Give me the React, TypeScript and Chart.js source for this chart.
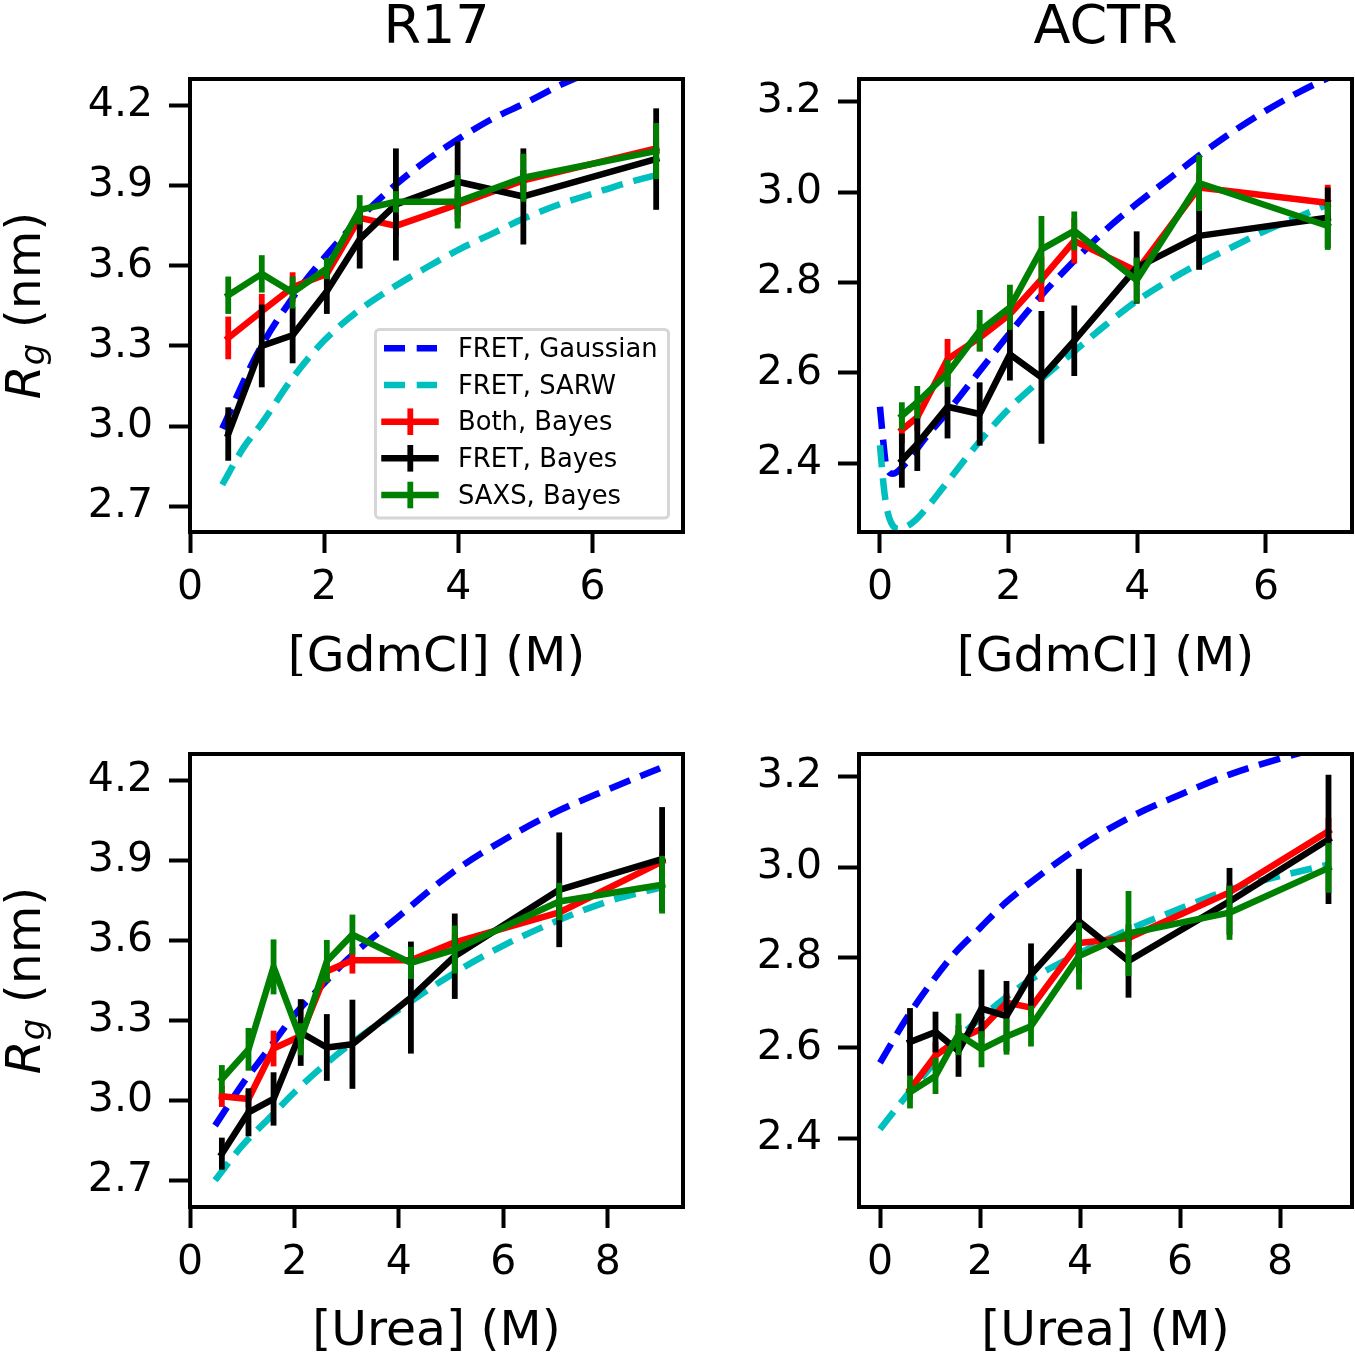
import { useEffect, useRef } from "react";
import { Chart, registerables } from "chart.js";

Chart.register(...registerables);

const FONT = "'DejaVu Sans', 'Liberation Sans', sans-serif";
Chart.defaults.font.family = FONT;

// ---------- Data: R17, GdmCl ----------
const r17GdmConc = [0.57, 1.07, 1.53, 2.04, 2.53, 3.07, 3.99, 4.97, 6.95];
const r17GdmBoth = [3.33, 3.43, 3.52, 3.57, 3.78, 3.75, 3.83, 3.92, 4.04];
const r17GdmBothErr = [0.08, 0.065, 0.056, 0.04, 0.04, 0.04, 0.04, 0.04, 0.04];
const r17GdmFret = [2.97, 3.3, 3.34, 3.505, 3.7, 3.83, 3.915, 3.86, 4.0];
const r17GdmFretErr = [0.1, 0.155, 0.105, 0.085, 0.11, 0.21, 0.15, 0.18, 0.19];
const r17GdmSaxs = [3.49, 3.57, 3.5, 3.59, 3.81, 3.84, 3.84, 3.93, 4.03];
const r17GdmSaxsErr = [0.07, 0.07, 0.06, 0.04, 0.055, 0.04, 0.1, 0.09, 0.105];
const r17GdmGaussX = [0.48, 1.0, 1.5, 2.0, 2.5, 3.0, 3.5, 4.0, 4.5, 5.0, 5.5, 6.0, 7.0];
const r17GdmGaussY = [2.99, 3.27, 3.47, 3.63, 3.77, 3.89, 3.99, 4.075, 4.15, 4.21, 4.275, 4.33, 4.43];
const r17GdmSarwX = [0.48, 0.8, 1.07, 1.5, 2.0, 2.5, 3.0, 3.5, 4.0, 4.5, 5.0, 5.5, 6.0, 6.5, 6.96];
const r17GdmSarwY = [2.78, 2.92, 3.01, 3.17, 3.32, 3.43, 3.515, 3.59, 3.66, 3.72, 3.78, 3.83, 3.87, 3.91, 3.94];

// ---------- Data: ACTR, GdmCl ----------
const actrGdmConc = [0.34, 0.58, 1.05, 1.55, 2.02, 2.51, 3.02, 3.99, 4.96, 6.96];
const actrGdmBoth = [2.474, 2.502, 2.63, 2.678, 2.73, 2.807, 2.892, 2.825, 3.01, 2.976];
const actrGdmBothErr = [0.03, 0.03, 0.045, 0.03, 0.03, 0.05, 0.05, 0.03, 0.03, 0.04];
const actrGdmFret = [2.406, 2.443, 2.525, 2.509, 2.641, 2.59, 2.671, 2.833, 2.903, 2.943];
const actrGdmFretErr = [0.06, 0.06, 0.07, 0.07, 0.058, 0.147, 0.078, 0.08, 0.075, 0.067];
const actrGdmSaxs = [2.505, 2.535, 2.599, 2.693, 2.745, 2.873, 2.914, 2.805, 3.02, 2.925];
const actrGdmSaxsErr = [0.03, 0.036, 0.03, 0.046, 0.05, 0.074, 0.043, 0.05, 0.062, 0.053];
const actrGdmGaussX = [0.0, 0.05, 0.1, 0.2, 0.4, 0.7, 1.0, 1.5, 2.0, 2.5, 3.0, 3.5, 4.0, 4.5, 5.0, 5.5, 6.0, 6.5, 7.0];
const actrGdmGaussY = [2.525, 2.45, 2.392, 2.377, 2.4, 2.455, 2.505, 2.595, 2.685, 2.77, 2.845, 2.915, 2.975, 3.03, 3.085, 3.135, 3.18, 3.22, 3.255];
const actrGdmSarwX = [0.0, 0.05, 0.1, 0.2, 0.3, 0.5, 0.75, 1.0, 1.5, 2.0, 2.5, 3.0, 3.5, 4.0, 4.5, 5.0, 5.5, 6.0, 6.5, 7.0];
const actrGdmSarwY = [2.44, 2.36, 2.305, 2.262, 2.255, 2.268, 2.305, 2.35, 2.44, 2.52, 2.585, 2.645, 2.705, 2.76, 2.805, 2.845, 2.88, 2.915, 2.945, 2.975];

// ---------- Data: R17, Urea ----------
const r17UreaConc = [0.61, 1.12, 1.6, 2.12, 2.62, 3.11, 4.23, 5.07, 7.07, 9.04];
const r17UreaBoth = [3.015, 3.005, 3.194, 3.241, 3.484, 3.525, 3.525, 3.592, 3.704, 3.895];
const r17UreaBothErr = [0.04, 0.03, 0.067, 0.03, 0.04, 0.05, 0.03, 0.03, 0.03, 0.03];
const r17UreaFret = [2.8, 2.955, 3.005, 3.254, 3.198, 3.21, 3.385, 3.54, 3.789, 3.904];
const r17UreaFretErr = [0.06, 0.09, 0.1, 0.125, 0.125, 0.167, 0.21, 0.16, 0.215, 0.195];
const r17UreaSaxs = [3.079, 3.191, 3.5, 3.229, 3.521, 3.621, 3.515, 3.565, 3.745, 3.808];
const r17UreaSaxsErr = [0.053, 0.08, 0.103, 0.06, 0.08, 0.075, 0.06, 0.09, 0.07, 0.108];
const r17UreaGaussX = [0.48, 1.0, 1.5, 2.0, 2.5, 3.0, 4.0, 5.0, 6.0, 7.0, 8.0, 9.0];
const r17UreaGaussY = [2.905, 3.06, 3.19, 3.32, 3.425, 3.525, 3.69, 3.85, 3.975, 4.08, 4.165, 4.245];
const r17UreaSarwX = [0.48, 1.0, 1.5, 2.0, 2.5, 3.0, 4.0, 5.0, 6.0, 7.0, 8.0, 9.06];
const r17UreaSarwY = [2.7, 2.83, 2.93, 3.03, 3.12, 3.2, 3.34, 3.47, 3.58, 3.67, 3.745, 3.8];

// ---------- Data: ACTR, Urea ----------
const actrUreaConc = [0.6, 1.11, 1.57, 2.03, 2.53, 3.02, 3.98, 4.97, 6.99, 8.97];
const actrUreaBoth = [2.508, 2.583, 2.619, 2.642, 2.7, 2.689, 2.832, 2.843, 2.944, 3.079];
const actrUreaBothErr = [0.02, 0.03, 0.02, 0.02, 0.02, 0.02, 0.02, 0.02, 0.02, 0.03];
const actrUreaFret = [2.613, 2.635, 2.593, 2.687, 2.67, 2.762, 2.88, 2.792, 2.924, 3.061];
const actrUreaFretErr = [0.075, 0.045, 0.057, 0.086, 0.078, 0.069, 0.116, 0.081, 0.074, 0.143];
const actrUreaSaxs = [2.502, 2.538, 2.63, 2.597, 2.625, 2.648, 2.803, 2.853, 2.899, 2.998];
const actrUreaSaxsErr = [0.036, 0.04, 0.046, 0.04, 0.04, 0.045, 0.074, 0.094, 0.06, 0.055];
const actrUreaGaussX = [0.0, 0.5, 1.0, 1.5, 2.0, 2.5, 3.0, 4.0, 5.0, 6.0, 7.0, 8.0, 9.0];
const actrUreaGaussY = [2.567, 2.66, 2.74, 2.81, 2.865, 2.92, 2.965, 3.045, 3.11, 3.16, 3.205, 3.24, 3.27];
const actrUreaSarwX = [0.0, 0.5, 1.0, 1.5, 2.0, 2.5, 3.0, 4.0, 5.0, 6.0, 7.0, 8.0, 9.0];
const actrUreaSarwY = [2.42, 2.49, 2.555, 2.615, 2.665, 2.71, 2.75, 2.81, 2.863, 2.908, 2.95, 2.98, 3.006];

// ---------- Ticks / labels ----------
const r17YTicks = [2.7, 3.0, 3.3, 3.6, 3.9, 4.2];
const actrYTicks = [2.4, 2.6, 2.8, 3.0, 3.2];
const gdmXTicks = [0, 2, 4, 6];
const ureaXTicks = [0, 2, 4, 6, 8];
const seriesLabels = ["FRET, Gaussian", "FRET, SARW", "Both, Bayes", "FRET, Bayes", "SAXS, Bayes"];
const panelTitles = ["R17", "ACTR"];
const xTitles = ["[GdmCl] (M)", "[Urea] (M)"];

const COLORS = ["#0000ff", "#00bfbf", "#ff0000", "#000000", "#008000"];
const LW = 6.5;

type PanelDef = {
  left: number; top: number; w: number; h: number;
  padT: number; padR: number; yW: number; xH: number;
  xMin: number; xMax: number; yMin: number; yMax: number;
  xTicks: number[]; yTicks: number[];
  title: string; xTitle: string; yTitle: boolean; legend: boolean;
  xTitleOff: number;
  conc: number[];
  both: number[]; bothErr: number[];
  fret: number[]; fretErr: number[];
  saxs: number[]; saxsErr: number[];
  gx: number[]; gy: number[]; sx: number[]; sy: number[];
};

const panels: PanelDef[] = [
  {
    left: 0, top: 0, w: 700, h: 676, padT: 79, padR: 17, yW: 190, xH: 144,
    xMin: 0, xMax: 7.35, yMin: 2.603, yMax: 4.3, xTicks: gdmXTicks, yTicks: r17YTicks,
    title: panelTitles[0], xTitle: xTitles[0], yTitle: true, legend: true, xTitleOff: 139,
    conc: r17GdmConc, both: r17GdmBoth, bothErr: r17GdmBothErr, fret: r17GdmFret, fretErr: r17GdmFretErr,
    saxs: r17GdmSaxs, saxsErr: r17GdmSaxsErr, gx: r17GdmGaussX, gy: r17GdmGaussY, sx: r17GdmSarwX, sy: r17GdmSarwY,
  },
  {
    left: 700, top: 0, w: 655, h: 676, padT: 79, padR: 3, yW: 159, xH: 144,
    xMin: -0.326, xMax: 7.337, yMin: 2.248, yMax: 3.25, xTicks: gdmXTicks, yTicks: actrYTicks,
    title: panelTitles[1], xTitle: xTitles[0], yTitle: false, legend: false, xTitleOff: 139,
    conc: actrGdmConc, both: actrGdmBoth, bothErr: actrGdmBothErr, fret: actrGdmFret, fretErr: actrGdmFretErr,
    saxs: actrGdmSaxs, saxsErr: actrGdmSaxsErr, gx: actrGdmGaussX, gy: actrGdmGaussY, sx: actrGdmSarwX, sy: actrGdmSarwY,
  },
  {
    left: 0, top: 676, w: 700, h: 676, padT: 78, padR: 17, yW: 190, xH: 145,
    xMin: 0, xMax: 9.44, yMin: 2.6, yMax: 4.298, xTicks: ureaXTicks, yTicks: r17YTicks,
    title: "", xTitle: xTitles[1], yTitle: true, legend: false, xTitleOff: 137.5,
    conc: r17UreaConc, both: r17UreaBoth, bothErr: r17UreaBothErr, fret: r17UreaFret, fretErr: r17UreaFretErr,
    saxs: r17UreaSaxs, saxsErr: r17UreaSaxsErr, gx: r17UreaGaussX, gy: r17UreaGaussY, sx: r17UreaSarwX, sy: r17UreaSarwY,
  },
  {
    left: 700, top: 676, w: 655, h: 676, padT: 78, padR: 3, yW: 159, xH: 145,
    xMin: -0.42, xMax: 9.44, yMin: 2.248, yMax: 3.25, xTicks: ureaXTicks, yTicks: actrYTicks,
    title: "", xTitle: xTitles[1], yTitle: false, legend: false, xTitleOff: 137.5,
    conc: actrUreaConc, both: actrUreaBoth, bothErr: actrUreaBothErr, fret: actrUreaFret, fretErr: actrUreaFretErr,
    saxs: actrUreaSaxs, saxsErr: actrUreaSaxsErr, gx: actrUreaGaussX, gy: actrUreaGaussY, sx: actrUreaSarwX, sy: actrUreaSarwY,
  },
];

const pts = (xs: number[], ys: number[]) => xs.map((x, i) => ({ x, y: ys[i] }));

const errorBarPlugin = {
  id: "errorBars",
  afterDatasetDraw(chart: any, args: any) {
    const ds = chart.data.datasets[args.index];
    if (!ds.errors) return;
    const { ctx, chartArea: ca } = chart;
    const xs = chart.scales.x, ys = chart.scales.y;
    ctx.save();
    ctx.beginPath();
    ctx.rect(ca.left, ca.top, ca.right - ca.left, ca.bottom - ca.top);
    ctx.clip();
    ctx.strokeStyle = ds.borderColor;
    ctx.lineWidth = 5.8;
    ctx.lineCap = "butt";
    ctx.setLineDash([]);
    ds.data.forEach((p: any, i: number) => {
      const e = ds.errors[i];
      const px = xs.getPixelForValue(p.x);
      ctx.beginPath();
      ctx.moveTo(px, ys.getPixelForValue(p.y - e));
      ctx.lineTo(px, ys.getPixelForValue(p.y + e));
      ctx.stroke();
    });
    ctx.restore();
  },
};

function makeDecorPlugin(def: PanelDef) {
  return {
    id: "decor",
    afterDraw(chart: any) {
      const { ctx, chartArea: ca } = chart;
      ctx.save();
      // frame
      ctx.strokeStyle = "#000";
      ctx.lineWidth = 4;
      ctx.setLineDash([]);
      ctx.strokeRect(ca.left, ca.top, ca.right - ca.left, ca.bottom - ca.top);
      ctx.fillStyle = "#000";
      const cx = (ca.left + ca.right) / 2;
      // panel title
      if (def.title) {
        ctx.font = `54px ${FONT}`;
        ctx.textAlign = "center";
        ctx.textBaseline = "alphabetic";
        ctx.fillText(def.title, cx, 43);
      }
      // x title
      ctx.font = `48.8px ${FONT}`;
      ctx.textAlign = "center";
      ctx.textBaseline = "alphabetic";
      ctx.fillText(def.xTitle, cx, ca.bottom + def.xTitleOff);
      // y title: R_g (nm)
      if (def.yTitle) {
        const cy = (ca.top + ca.bottom) / 2;
        ctx.save();
        ctx.translate(39.5, cy);
        ctx.rotate(-Math.PI / 2);
        ctx.textAlign = "left";
        const big = 48.8, small = 34;
        ctx.font = `italic ${big}px ${FONT}`;
        const wR = ctx.measureText("R").width;
        ctx.font = `italic ${small}px ${FONT}`;
        const wg = ctx.measureText("g").width;
        ctx.font = `${big}px ${FONT}`;
        const wn = ctx.measureText(" (nm)").width;
        const x0 = -(wR + wg + wn) / 2;
        ctx.font = `italic ${big}px ${FONT}`;
        ctx.fillText("R", x0, 0);
        ctx.font = `italic ${small}px ${FONT}`;
        ctx.fillText("g", x0 + wR, 4);
        ctx.font = `${big}px ${FONT}`;
        ctx.fillText(" (nm)", x0 + wR + wg, 0);
        ctx.restore();
      }
      // legend
      if (def.legend) {
        const bx = 375.5, by = 329.5, bw = 293, bh = 188.5, r = 4;
        ctx.beginPath();
        ctx.moveTo(bx + r, by);
        ctx.arcTo(bx + bw, by, bx + bw, by + bh, r);
        ctx.arcTo(bx + bw, by + bh, bx, by + bh, r);
        ctx.arcTo(bx, by + bh, bx, by, r);
        ctx.arcTo(bx, by, bx + bw, by, r);
        ctx.closePath();
        ctx.fillStyle = "rgba(255,255,255,0.8)";
        ctx.fill();
        ctx.strokeStyle = "#d6d6d6";
        ctx.lineWidth = 3;
        ctx.stroke();
        const rows = [348.3, 385, 421.7, 458.3, 495];
        seriesLabels.forEach((lab, i) => {
          const y = rows[i];
          ctx.strokeStyle = COLORS[i];
          ctx.lineWidth = LW;
          if (i < 2) {
            ctx.lineCap = "butt";
            ctx.setLineDash([21, 11.7]);
            ctx.beginPath();
            ctx.moveTo(384, y);
            ctx.lineTo(437, y);
            ctx.stroke();
            ctx.setLineDash([]);
          } else {
            ctx.lineCap = "square";
            ctx.beginPath();
            ctx.moveTo(384.5, y);
            ctx.lineTo(435.5, y);
            ctx.stroke();
            ctx.lineCap = "butt";
            ctx.lineWidth = 5.8;
            ctx.beginPath();
            ctx.moveTo(410.3, y - 13.3);
            ctx.lineTo(410.3, y + 13.3);
            ctx.stroke();
          }
          ctx.fillStyle = "#000";
          ctx.font = `25.8px ${FONT}`;
          ctx.textAlign = "left";
          ctx.textBaseline = "alphabetic";
          ctx.fillText(lab, 458, y + 8.5);
        });
      }
      ctx.restore();
    },
  };
}

function Panel({ def }: { def: PanelDef }) {
  const ref = useRef<HTMLCanvasElement | null>(null);
  useEffect(() => {
    if (!ref.current) return;
    const solid = (label: string, color: string, ys: number[], errs: number[]) => ({
      label,
      data: pts(def.conc, ys),
      errors: errs,
      borderColor: color,
      backgroundColor: color,
      borderWidth: LW,
      pointRadius: 0,
      tension: 0,
      borderCapStyle: "square",
      borderJoinStyle: "round",
      clip: 0,
    });
    const dashed = (label: string, color: string, xs: number[], ys: number[]) => ({
      label,
      data: pts(xs, ys),
      borderColor: color,
      backgroundColor: color,
      borderWidth: LW,
      borderDash: [22, 11],
      borderCapStyle: "butt",
      borderJoinStyle: "round",
      pointRadius: 0,
      cubicInterpolationMode: "monotone",
      clip: 0,
    });
    // Chart.js draws dataset index 0 last (on top): list top-most first
    const datasets: any[] = [
      solid(seriesLabels[4], COLORS[4], def.saxs, def.saxsErr),
      solid(seriesLabels[3], COLORS[3], def.fret, def.fretErr),
      solid(seriesLabels[2], COLORS[2], def.both, def.bothErr),
      dashed(seriesLabels[1], COLORS[1], def.sx, def.sy),
      dashed(seriesLabels[0], COLORS[0], def.gx, def.gy),
    ];
    const tickFont = { family: FONT, size: 41, lineHeight: 1.2 };
    const chart = new Chart(ref.current, {
      type: "line",
      data: { datasets },
      options: {
        animation: false,
        responsive: false,
        maintainAspectRatio: false,
        devicePixelRatio: 1,
        events: [],
        layout: { padding: { left: 0, right: def.padR, top: def.padT, bottom: 0 } },
        plugins: { legend: { display: false }, tooltip: { enabled: false }, title: { display: false } },
        scales: {
          x: {
            type: "linear",
            min: def.xMin,
            max: def.xMax,
            afterBuildTicks: (s: any) => { s.ticks = def.xTicks.map((v) => ({ value: v })); },
            afterFit: (s: any) => { s.height = def.xH; },
            ticks: {
              font: tickFont, color: "#000", padding: 11, autoSkip: false, maxRotation: 0, minRotation: 0,
              callback: (v: any) => String(v),
            },
            grid: { display: true, drawOnChartArea: false, drawTicks: true, tickLength: 21, tickWidth: 4, tickColor: "#000", color: "#000" },
            border: { display: false },
          },
          y: {
            type: "linear",
            min: def.yMin,
            max: def.yMax,
            afterBuildTicks: (s: any) => { s.ticks = def.yTicks.map((v) => ({ value: v })); },
            afterFit: (s: any) => { s.width = def.yW; },
            ticks: {
              font: tickFont, color: "#000", padding: 16, autoSkip: false,
              callback: (v: any) => Number(v).toFixed(1),
            },
            grid: { display: true, drawOnChartArea: false, drawTicks: true, tickLength: 21, tickWidth: 4, tickColor: "#000", color: "#000" },
            border: { display: false },
          },
        },
      } as any,
      plugins: [errorBarPlugin, makeDecorPlugin(def)],
    });
    return () => chart.destroy();
  }, [def]);
  return (
    <canvas
      ref={ref}
      width={def.w}
      height={def.h}
      style={{ position: "absolute", left: def.left, top: def.top, width: def.w, height: def.h }}
    />
  );
}

export default function App() {
  return (
    <div style={{ position: "absolute", left: 0, top: 0, width: 1355, height: 1352, background: "#fff", overflow: "hidden" }}>
      {panels.map((p, i) => (
        <Panel key={i} def={p} />
      ))}
    </div>
  );
}
